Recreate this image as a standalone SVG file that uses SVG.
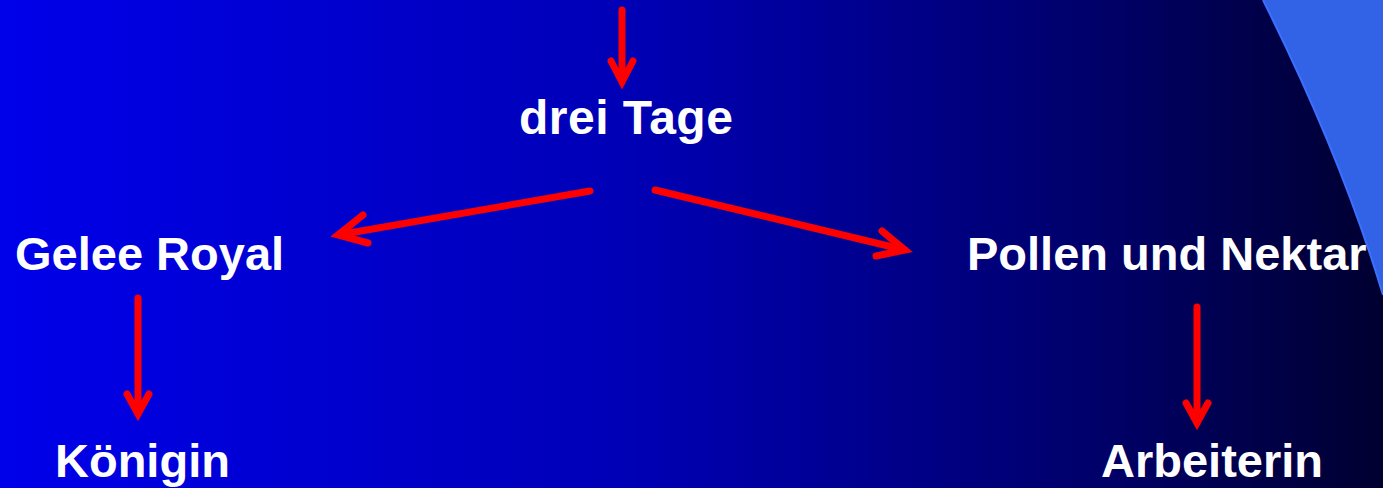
<svg xmlns="http://www.w3.org/2000/svg" width="1383" height="488" viewBox="0 0 1383 488">
<defs>
<linearGradient id="bg" x1="0" y1="0" x2="1" y2="0">
<stop offset="0" stop-color="#0000ea"/>
<stop offset="0.45" stop-color="#0000b6"/>
<stop offset="0.8" stop-color="#000068"/>
<stop offset="1" stop-color="#000030"/>
</linearGradient>
</defs>
<style>
.t{font-family:"Liberation Sans",Arial,sans-serif;font-weight:bold;font-size:47px;fill:#ffffff}
.a{fill:none;stroke:#ff0000;stroke-width:7;stroke-linecap:round;stroke-linejoin:miter}
</style>
<rect x="0" y="0" width="1383" height="488" fill="url(#bg)"/>
<path d="M1263,0 Q1341.75,157.5 1383,295 L1383,0 Z" fill="#3262e6"/>
<path d="M1263,0 Q1341.75,157.5 1383,295" fill="none" stroke="#3a70ff" stroke-width="2"/>
<g id="connectors">
<path class="a" d="M622,10 L622,82 M611,61 L622,82 L633,61"/>
<path class="a" d="M590,191 L338,235 M363,215 L338,235 L368,243"/>
<path class="a" d="M655,190 L905,250 M882,231 L905,250 L876,256"/>
<path class="a" d="M138,298 L138,414 M127,394 L138,414 L149,394"/>
<path class="a" d="M1197,307 L1197,423 M1186,403 L1197,423 L1208,403"/>
</g>
<g id="n_drei"><text class="t" x="519" y="134" style="font-size:48px;letter-spacing:0.5px">drei Tage</text></g>
<g id="n_gelee"><text class="t" x="15" y="270">Gelee Royal</text></g>
<g id="n_pollen"><text class="t" x="967" y="270">Pollen und Nektar</text></g>
<g id="n_koenigin"><text class="t" x="55" y="477">Königin</text></g>
<g id="n_arbeiterin"><text class="t" x="1101" y="477">Arbeiterin</text></g>
</svg>
